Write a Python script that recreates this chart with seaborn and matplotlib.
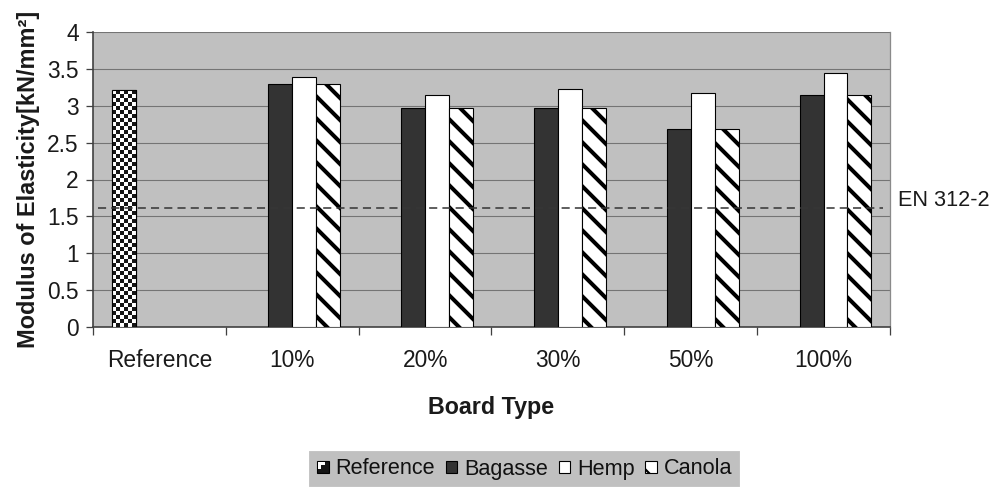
import numpy as np
import pandas as pd
import matplotlib
matplotlib.use("Agg")
import matplotlib.pyplot as plt
import seaborn as sns
from matplotlib.patches import Rectangle, Patch
from matplotlib.colors import ListedColormap
from matplotlib.legend_handler import HandlerBase, HandlerPatch
from matplotlib.transforms import blended_transform_factory

# Board types and the modulus of elasticity measured for each filler
categories = ["Reference", "10%", "20%", "30%", "50%", "100%"]
series = ["Reference", "Bagasse", "Hemp", "Canola"]
reference_moe = [3.21]
bagasse_moe = [3.29, 2.97, 2.97, 2.69, 3.14]
hemp_moe = [3.39, 3.15, 3.23, 3.17, 3.45]
canola_moe = [3.29, 2.97, 2.97, 2.69, 3.14]
en312_2_limit = 1.62
y_ticks = [0, 0.5, 1, 1.5, 2, 2.5, 3, 3.5, 4]
y_tick_labels = ["0", "0.5", "1", "1.5", "2", "2.5", "3", "3.5", "4"]

rows = [(categories[0], "Reference", reference_moe[0])]
for cat, b, h, c in zip(categories[1:], bagasse_moe, hemp_moe, canola_moe):
    rows += [(cat, "Bagasse", b), (cat, "Hemp", h), (cat, "Canola", c)]
df = pd.DataFrame(rows, columns=["Board Type", "Material", "MOE"])

DPI = 132
W, H = 1003, 488
sns.set_theme(style="white")
plt.rcParams["font.family"] = ["Liberation Sans", "DejaVu Sans"]
plt.rcParams["hatch.linewidth"] = 2.2
FS = 12.4
TXT = "#1a1a1a"

fig = plt.figure(figsize=(W / DPI, H / DPI), dpi=DPI)
ax = fig.add_axes([93 / W, 1 - 327 / H, (890 - 93) / W, (327 - 32) / H])
ax.set_facecolor("#c0c0c0")
ax.set_axisbelow(True)

palette = {"Reference": "white", "Bagasse": "#333333", "Hemp": "white", "Canola": "white"}
sns.barplot(data=df, x="Board Type", y="MOE", hue="Material",
            order=categories, hue_order=series, palette=palette,
            width=0.72, dodge=True, edgecolor="black", linewidth=0.6,
            errorbar=None, legend=False, ax=ax, zorder=3)

ax.set_xlim(-0.5, len(categories) - 0.5)
ax.set_ylim(0, 4)

# Canola bars: bold diagonal stripes
for patch in ax.containers[3]:
    patch.set_hatch("\\\\")

# Reference bar: checkerboard fill clipped to the bar
px_per_unit = (327 - 32) / 4.0
checker_cmap = ListedColormap(["white", "#151515"])
for patch in ax.containers[0]:
    x, w, h = patch.get_x(), patch.get_width(), patch.get_height()
    nrows = max(1, int(round(h * px_per_unit / 4.0)))
    grid = np.add.outer(np.arange(nrows), np.arange(6)) % 2
    im = ax.imshow(grid, cmap=checker_cmap, extent=(x, x + w, 0, h), origin="upper",
                   aspect="auto", interpolation="nearest", zorder=3.5)
    im.set_clip_path(patch)
    ax.add_patch(Rectangle((x, 0), w, h, fill=False, edgecolor="black", lw=0.6, zorder=4))

ax.set_xlim(-0.5, len(categories) - 0.5)
ax.set_ylim(0, 4)

# Gridlines and frame
ax.yaxis.grid(True, color="#747474", linewidth=0.6)
ax.xaxis.grid(False)
for side in ["left", "bottom"]:
    ax.spines[side].set_color("#404040")
    ax.spines[side].set_linewidth(0.9)
ax.spines["right"].set_color("#8a8a8a")
ax.spines["right"].set_linewidth(0.7)
ax.spines["top"].set_visible(False)

ax.set_yticks(y_ticks)
ax.set_yticklabels(y_tick_labels, fontsize=FS, color=TXT)
ax.tick_params(axis="y", direction="out", length=3.8, width=0.7, color="#404040",
               pad=4.0, left=True)

ax.set_xticks(range(len(categories)))
ax.set_xticklabels(categories, fontsize=FS, color=TXT)
ax.set_xticks(np.arange(-0.5, len(categories), 1.0), minor=True)
ax.tick_params(axis="x", which="major", length=0, pad=12)
ax.tick_params(axis="x", which="minor", direction="out", length=4.4, width=0.7,
               color="#404040", bottom=True)

ax.set_xlabel("Board Type", fontsize=12.7, fontweight="bold", labelpad=13, color=TXT)
ax.set_ylabel("Modulus of Elasticity[kN/mm²]", fontsize=12.8, fontweight="bold",
              labelpad=4, color=TXT)

# EN 312-2 requirement
ax.axhline(en312_2_limit, xmin=0.006, xmax=0.991, color="#363636", lw=0.85,
           dashes=(5.2, 3.3), zorder=5)
trans = blended_transform_factory(ax.transAxes, ax.transData)
ax.annotate("EN 312-2", xy=(1.01, en312_2_limit), xycoords=trans,
            xytext=(0, 1), textcoords="offset points", va="baseline", ha="left",
            fontsize=11.8, color=TXT, annotation_clip=False)


class CheckerHandler(HandlerBase):
    def create_artists(self, legend, orig_handle, xdescent, ydescent, width, height,
                       fontsize, trans):
        s = min(width, height)
        x0 = -xdescent + (width - s) / 2
        y0 = -ydescent + (height - s) / 2
        q = s * 0.6
        arts = [Rectangle((x0, y0), s, s, facecolor="#151515", edgecolor="black",
                          lw=0.6, transform=trans),
                Rectangle((x0 + s * 0.1, y0 + s - q - s * 0.1), q, q, facecolor="white",
                          edgecolor="none", transform=trans),
                Rectangle((x0 + s * 0.1 + q * 0.45, y0 + s - q - s * 0.1), q * 0.55, q * 0.55,
                          facecolor="#151515", edgecolor="none", transform=trans)]
        return arts


class SquarePatchHandler(HandlerPatch):
    def create_artists(self, legend, orig_handle, xdescent, ydescent, width, height,
                       fontsize, trans):
        s = min(width, height)
        x0 = -xdescent + (width - s) / 2
        y0 = -ydescent + (height - s) / 2
        r = Rectangle((x0, y0), s, s, facecolor=orig_handle.get_facecolor(),
                      edgecolor="black", lw=0.6, hatch=orig_handle.get_hatch(),
                      transform=trans)
        return [r]


ref_handle = Patch(facecolor="white", edgecolor="black")
handles = [ref_handle,
           Patch(facecolor="#333333", edgecolor="black"),
           Patch(facecolor="white", edgecolor="black"),
           Patch(facecolor="white", edgecolor="black", hatch="\\\\")]
with plt.rc_context({"hatch.linewidth": 1.2}):
    leg = fig.legend(handles, series, loc="center", bbox_to_anchor=(524.5 / W, 1 - 469 / H),
                     ncol=4, frameon=True, fancybox=False, fontsize=11.8,
                     handlelength=0.55, handleheight=0.55, handletextpad=0.3,
                     columnspacing=0.5, borderpad=0.3, borderaxespad=0,
                     handler_map={ref_handle: CheckerHandler(),
                                  Patch: SquarePatchHandler()})
leg.get_frame().set_facecolor("#c0c0c0")
leg.get_frame().set_edgecolor("#c0c0c0")
leg.get_frame().set_alpha(1)
for t in leg.get_texts():
    t.set_color("#111111")

fig.savefig("out.png", dpi=DPI)
